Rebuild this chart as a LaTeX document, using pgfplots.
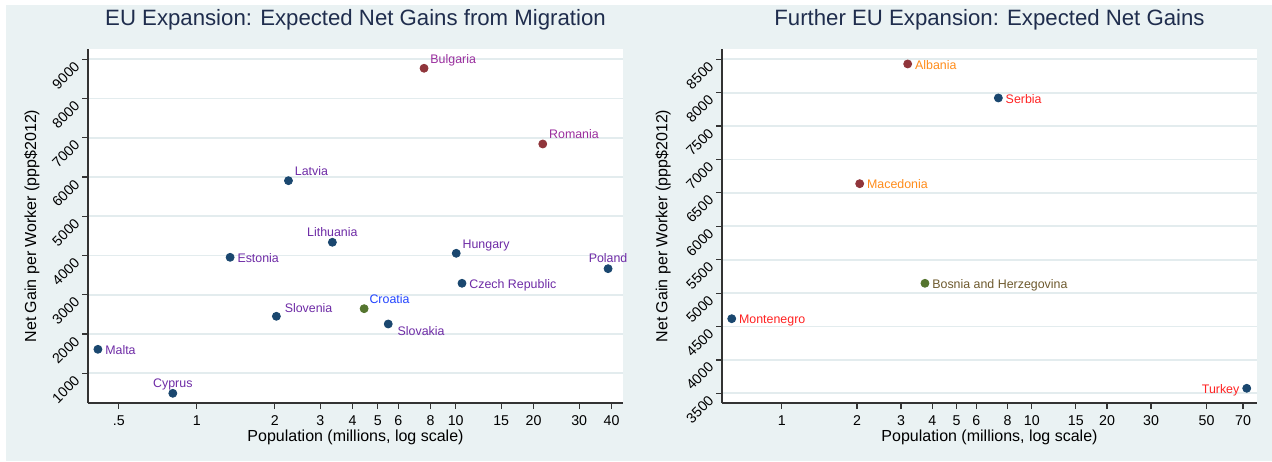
\documentclass[border=0pt]{standalone}
\usepackage{pgfplots}
\pgfplotsset{compat=1.18}
\usepackage{fontspec}
\setmainfont{Liberation Sans}
\definecolor{bg}{HTML}{EAF2F3}
\definecolor{gridc}{HTML}{E3ECEE}
\definecolor{navy}{HTML}{1A476F}
\definecolor{maroon}{HTML}{90353B}
\definecolor{olive}{HTML}{55752F}
\definecolor{lpurple}{HTML}{6E2BA6}
\definecolor{lmagenta}{HTML}{9A2E9E}
\definecolor{lblue}{HTML}{2244FF}
\definecolor{lorange}{HTML}{FF8C1A}
\definecolor{lred}{HTML}{FF2222}
\definecolor{lbrown}{HTML}{6E5A2E}
\definecolor{titlec}{HTML}{1F2D4D}
\newcommand{\ticksz}{\fontsize{7.1}{8.5}\selectfont}
\newcommand{\labsz}{\fontsize{8}{9.5}\selectfont}
\newcommand{\titlesz}{\fontsize{11.1}{13}\selectfont}
\newcommand{\ptsz}{\fontsize{6.2}{7.5}\selectfont}
\tikzset{
  lsw/.style={anchor=base west, xshift=2pt, yshift=2.6pt},
  lrt/.style={anchor=mid west, xshift=2.5pt},
}
% x, y, marker colour, label, label colour, label placement
\newcommand{\cpt}[6]{%
  \addplot[only marks, mark=*, mark size=2pt, color=#3,
    nodes near coords={#4},
    nodes near coords style={font=\ptsz, text=#5, inner sep=1pt, #6}]
    coordinates {(#1,#2)};}
\pgfplotsset{
  every axis/.append style={
    scale only axis, width=267.5pt, height=177pt,
    axis x line*=bottom, axis y line*=left,
    axis line style={draw=black!80, line width=0.6pt},
    tick align=outside, major tick length=3pt,
    tick style={draw=black!80, line width=0.6pt},
    xminorticks=false, yminorticks=false,
    ymajorgrids, grid style={draw=gridc, line width=0.9pt},
    axis background/.style={fill=white},
    tick label style={font=\ticksz},
    yticklabel style={rotate=45, anchor=east},
    xticklabel style={anchor=north},
    title style={font=\titlesz, text=titlec, at={(axis description cs:0.5,1.048)}, anchor=center},
    xlabel style={font=\labsz, at={(axis description cs:0.5,-0.096)}, anchor=center},
    ylabel style={font=\labsz, anchor=center},
    clip=false,
  },
}
\begin{document}
\begin{tikzpicture}
\path[use as bounding box] (0pt,0pt) rectangle (636pt,230.5pt);
\fill[bg] (3pt,0pt) rectangle (636pt,228pt);
\begin{axis}[xmode=log, at={(44pt,29pt)}, anchor=south west,
  xmin=0.38, xmax=44.3, ymin=243, ymax=9262,
  xtick={0.5,1,2,3,4,5,6,8,10,15,20,30,40},
  xticklabels={.5,1,2,3,4,5,6,8,10,15,20,30,40},
  ytick={1000,2000,3000,4000,5000,6000,7000,8000,9000},
  yticklabels={1000,2000,3000,4000,5000,6000,7000,8000,9000},
  title={EU Expansion: Expected Net Gains from Migration},
  xlabel={Population (millions, log scale)},
  ylabel={Net Gain per Worker (ppp\$2012)},
  ylabel style={at={(axis description cs:-0.105,0.5)}},
]
\cpt{7.55}{8771}{maroon}{Bulgaria}{lmagenta}{lsw}
\cpt{21.7}{6842}{maroon}{Romania}{lmagenta}{lsw}
\cpt{2.26}{5907}{navy}{Latvia}{lpurple}{lsw}
\cpt{3.34}{4338}{navy}{Lithuania}{lpurple}{anchor=base, yshift=2.7pt}
\cpt{10.05}{4057}{navy}{Hungary}{lpurple}{lsw}
\cpt{38.8}{3665}{navy}{Poland}{lpurple}{anchor=base, yshift=3.3pt}
\cpt{10.58}{3293}{navy}{Czech Republic}{lpurple}{lrt}
\cpt{4.43}{2646}{olive}{Croatia}{lblue}{anchor=base west, xshift=1.5pt, yshift=2.5pt}
\cpt{5.49}{2256}{navy}{Slovakia}{lpurple}{anchor=base west, xshift=3.5pt, yshift=-6pt}
\cpt{1.345}{3955}{navy}{Estonia}{lpurple}{lrt}
\cpt{2.03}{2452}{navy}{Slovenia}{lpurple}{anchor=base west, xshift=3pt, yshift=1.8pt}
\cpt{0.415}{1611}{navy}{Malta}{lpurple}{lrt}
\cpt{0.808}{490}{navy}{Cyprus}{lpurple}{anchor=base, yshift=3.1pt}
\end{axis}
\begin{axis}[xmode=log, at={(361pt,29pt)}, anchor=south west,
  xmin=0.577, xmax=79.6, ymin=3355, ymax=8654,
  xtick={1,2,3,4,5,6,8,10,15,20,30,50,70},
  xticklabels={1,2,3,4,5,6,8,10,15,20,30,50,70},
  ytick={3500,4000,4500,5000,5500,6000,6500,7000,7500,8000,8500},
  yticklabels={3500,4000,4500,5000,5500,6000,6500,7000,7500,8000,8500},
  title={Further EU Expansion: Expected Net Gains},
  xlabel={Population (millions, log scale)},
  ylabel={Net Gain per Worker (ppp\$2012)},
  ylabel style={at={(axis description cs:-0.110,0.5)}},
]
\cpt{3.19}{8430}{maroon}{Albania}{lorange}{lrt}
\cpt{7.35}{7921}{navy}{Serbia}{lred}{lrt}
\cpt{2.05}{6638}{maroon}{Macedonia}{lorange}{lrt}
\cpt{3.74}{5147}{olive}{Bosnia and Herzegovina}{lbrown}{lrt}
\cpt{0.631}{4617}{navy}{Montenegro}{lred}{lrt}
\cpt{72.4}{3575}{navy}{Turkey}{lred}{anchor=mid east, xshift=-2.5pt}
\end{axis}
\end{tikzpicture}
\end{document}
